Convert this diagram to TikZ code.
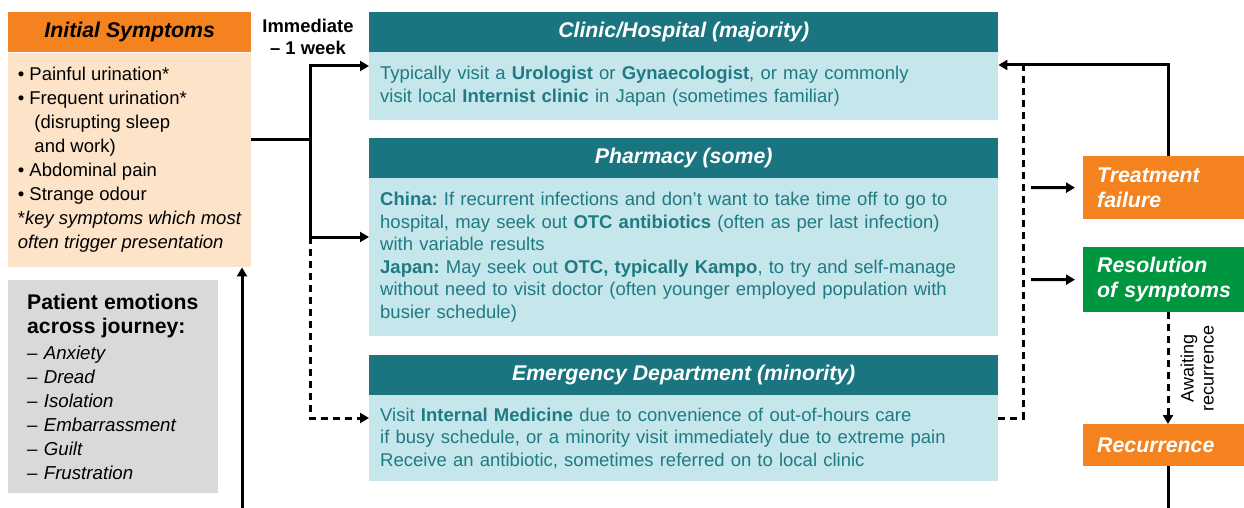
\documentclass[tikz,border=0pt]{standalone}
\usepackage{fontspec}
\setmainfont{Liberation Sans}
\usetikzlibrary{arrows.meta}
\frenchspacing
\definecolor{Orange}{HTML}{F3821F}
\definecolor{Petrol}{HTML}{1B7580}
\definecolor{Hellblau}{HTML}{C5E6EA}
\definecolor{Schrift}{HTML}{1F7A84}
\definecolor{Pfirsich}{HTML}{FDE3C8}
\definecolor{Grau}{HTML}{D9D9D9}
\definecolor{Gruen}{HTML}{00963F}
\tikzset{
	kopf/.style={fill=Petrol,text=white,font=\bfseries\itshape\fontsize{21.3}{24}\selectfont,minimum width=629pt,minimum height=40pt,inner sep=0pt,anchor=north west},
	inhalt/.style={fill=Hellblau,text=Schrift,font=\fontsize{18.5}{22.6}\selectfont,align=left,text width=607pt,inner xsep=11pt,inner ysep=0pt,anchor=north west},
	ergebnis/.style={text=white,font=\bfseries\itshape\fontsize{21.3}{25}\selectfont,align=left,text width=133pt,inner xsep=14pt,inner ysep=0pt,anchor=north west},
	linie/.style={line width=3pt},
	pfeil/.style={line width=3pt,-{Triangle[length=9pt,width=10pt]}},
	strich/.style={dash pattern=on 7pt off 5pt},
}
\begin{document}
\begin{tikzpicture}[x=1pt,y=-1pt]
	\useasboundingbox (0,0) rectangle (1244,508);
	% linke Spalte
	\node[fill=Orange,minimum width=243pt,minimum height=40pt,inner sep=0pt,anchor=north west,font=\bfseries\itshape\fontsize{21.3}{24}\selectfont] (SymKopf) at (8,12) {Initial Symptoms};
	\node[fill=Pfirsich,minimum width=243pt,minimum height=214pt,inner xsep=8pt,inner ysep=0pt,align=left,anchor=north west,font=\fontsize{18.5}{24}\selectfont] (Symptome) at (8,53) {%
		• Painful urination*\\
		• Frequent urination*\\
		\hspace*{0.9em}(disrupting sleep\\
		\hspace*{0.9em}and work)\\
		• Abdominal pain\\
		• Strange odour\\
		{*}\textit{key symptoms which most}\\
		\textit{often trigger presentation}};
	\node[fill=Grau,minimum width=210pt,minimum height=213pt,text width=172pt,inner xsep=19pt,inner ysep=0pt,align=left,anchor=north west,font=\fontsize{18.7}{24}\selectfont] (Gefuehle) at (8,280) {%
		{\bfseries\fontsize{21.2}{24}\selectfont Patient emotions}\\
		{\bfseries\fontsize{21.2}{24}\selectfont across journey:}\\[2pt]
		– \textit{Anxiety}\\
		– \textit{Dread}\\
		– \textit{Isolation}\\
		– \textit{Embarrassment}\\
		– \textit{Guilt}\\
		– \textit{Frustration}};
	\node[font=\bfseries\fontsize{18.4}{22}\selectfont,align=center] (Zeit) at (308,37) {Immediate\\– 1 week};
	% mittlere Spalte
	\node[kopf] (KlinikKopf) at (369,12) {Clinic/Hospital (majority)};
	\node[inhalt,minimum height=68pt] (Klinik) at (369,52) {%
		Typically visit a \textbf{Urologist} or \textbf{Gynaecologist}, or may commonly\\
		visit local \textbf{Internist clinic} in Japan (sometimes familiar)};
	\node[kopf] (ApothekeKopf) at (369,138) {Pharmacy (some)};
	\node[inhalt,minimum height=158pt] (Apotheke) at (369,178) {%
		\textbf{China:} If recurrent infections and don’t want to take time off to go to\\
		hospital, may seek out \textbf{OTC antibiotics} (often as per last infection)\\
		with variable results\\
		\textbf{Japan:} May seek out \textbf{OTC, typically Kampo}, to try and self-manage\\
		without need to visit doctor (often younger employed population with\\
		busier schedule)};
	\node[kopf] (NotKopf) at (369,355) {Emergency Department (minority)};
	\node[inhalt,minimum height=86pt] (Notaufnahme) at (369,395) {%
		Visit \textbf{Internal Medicine} due to convenience of out-of-hours care\\
		if busy schedule, or a minority visit immediately due to extreme pain\\
		Receive an antibiotic, sometimes referred on to local clinic};
	% rechte Spalte
	\node[ergebnis,fill=Orange,minimum height=63pt] (Versagen) at (1083,156) {Treatment\\failure};
	\node[ergebnis,fill=Gruen,minimum height=65pt] (Abheilung) at (1083,247) {Resolution\\\mbox{of symptoms}};
	\node[ergebnis,fill=Orange,minimum height=42pt] (Rueckfall) at (1083,424) {Recurrence};
	% Verbindungen links
	\coordinate (Abzweig) at (310,139);
	\coordinate (Oben) at (310,66);
	\coordinate (Mitte) at (310,237);
	\coordinate (Unten) at (310,418);
	\draw[linie] (Symptome.east |- Abzweig) -- (Abzweig);
	\draw[pfeil] (Mitte) -- (Oben) -- (Oben -| Klinik.west);
	\draw[pfeil] (Mitte) -- (Mitte -| Apotheke.west);
	\draw[pfeil,strich] (Mitte) -- (Unten) -- (Unten -| Notaufnahme.west);
	\coordinate (Zurueck) at (242,508);
	\draw[pfeil] (Zurueck) -- (Zurueck |- Symptome.south);
	% Verbindungen rechts
	\coordinate (Eck) at (1168,65);
	\coordinate (Strich) at (1023,418);
	\draw[pfeil] (Eck |- Versagen.north) -- (Eck) -- (Eck -| Klinik.east);
	\draw[linie,strich] (Notaufnahme.east |- Strich) -- (Strich) -- (Strich |- Eck);
	\coordinate (ZuVersagen) at (1031,187.5);
	\coordinate (ZuAbheilung) at (1031,279.5);
	\draw[pfeil,shorten >=8pt] (ZuVersagen) -- (Versagen.west);
	\draw[pfeil,shorten >=8pt] (ZuAbheilung) -- (Abheilung.west);
	\draw[pfeil,strich] (Eck |- Abheilung.south) -- (Eck |- Rueckfall.north)
		node[midway,anchor=north,rotate=90,align=center,inner sep=11pt,font=\fontsize{18}{20}\selectfont] (Warten) {Awaiting\\recurrence};
	\coordinate (Boden) at (1168,508);
	\draw[linie] (Boden |- Rueckfall.south) -- (Boden);
\end{tikzpicture}
\end{document}
